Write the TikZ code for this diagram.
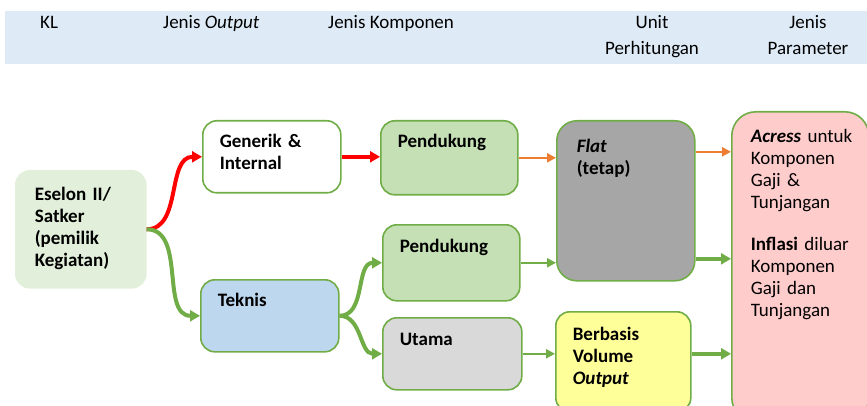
\documentclass[tikz,border=0pt]{standalone}
\usepackage{fontspec}
\setmainfont{Carlito}
\usetikzlibrary{arrows.meta,calc}

\begin{document}
\begin{tikzpicture}[x=1pt,y=-1pt,font=\fontsize{19}{22}\selectfont]

\definecolor{bandcol}{RGB}{222,235,247}
\definecolor{garis}{RGB}{112,173,71}
\definecolor{merah}{RGB}{255,0,0}
\definecolor{oranye}{RGB}{237,125,49}
\definecolor{eselonfill}{RGB}{226,239,218}
\definecolor{teknisfill}{RGB}{189,215,238}
\definecolor{pendfill}{RGB}{197,224,180}
\definecolor{utamafill}{RGB}{217,217,217}
\definecolor{flatfill}{RGB}{166,166,166}
\definecolor{volfill}{RGB}{255,255,153}
\definecolor{paramfill}{RGB}{255,204,204}

\tikzset{
  kotak/.style={draw=garis, line width=1.6pt, rounded corners=14pt,
    anchor=north west, align=left, inner xsep=17pt, inner ysep=12pt,
    text height=15pt, font=\fontsize{19}{22}\selectfont\bfseries},
  judul/.style={anchor=base west, inner sep=0pt},
  panah/.style={-{Triangle[length=9pt,width=9pt]}, line width=2.4pt},
  panah tebal/.style={-{Triangle[length=10pt,width=11pt]}, line width=4pt},
}

\useasboundingbox (0,0) rectangle (867,406);

% ---------------- header band ----------------
\fill[bandcol] (5,11) rectangle (867,64);
\node[judul] (hKL) at (40,29) {KL};
\node[judul] (hOutput) at (163,29) {Jenis \textit{Output}};
\node[judul] (hKomp) at (328,29) {Jenis Komponen};
\node[judul, anchor=base, align=center] (hUnit) at (652,55) {Unit\\[4pt]Perhitungan};
\node[judul, anchor=base, align=center] (hParam) at (808,55) {Jenis\\[4pt]Parameter};

% ---------------- boxes ----------------
\node[kotak, fill=eselonfill, draw=eselonfill, inner xsep=19pt, text width=92pt,
  text height=18pt, text depth=75pt] (eselon) at (15,170)
  {Eselon II/\\Satker\\(pemilik\\Kegiatan)};
\node[kotak, fill=white, text width=104pt, text depth=33pt] (generik) at (202,120)
  {Generik \&\\Internal};
\node[kotak, fill=teknisfill, text width=104pt, text depth=33pt] (teknis) at (200,279)
  {Teknis};
\node[kotak, fill=pendfill, text width=103pt, text depth=35pt] (pend1) at (380,120)
  {Pendukung};
\node[kotak, fill=pendfill, text width=103pt, text height=16pt, text depth=36pt] (pend2) at (382,224)
  {Pendukung};
\node[kotak, fill=utamafill, text width=105pt, text height=16pt, text depth=32pt] (utama) at (382,317)
  {Utama};
\node[kotak, fill=flatfill, rounded corners=20pt, inner xsep=20pt, text width=98pt,
  text height=20pt, text depth=116pt] (flat) at (556,120)
  {\textit{Flat}\\(tetap)};
\node[kotak, fill=volfill, text width=101pt, text height=17pt, text depth=59pt] (volume) at (555,311)
  {Berbasis\\Volume\\\textit{Output}};
\node[kotak, fill=paramfill, rounded corners=24pt, inner xsep=19pt, text width=99pt,
  text height=19pt, text depth=267pt, font=\fontsize{19}{22}\selectfont] (param) at (731,111)
  {\mbox{\textbf{\textit{Acress}} untuk}\\Komponen\\Gaji \&\\Tunjangan\\[20pt]
   \mbox{\textbf{Inflasi} diluar}\\Komponen\\Gaji dan\\Tunjangan};

% ---------------- connectors ----------------
\draw[panah tebal, merah] (eselon.east) to[out=0,in=180] (generik.west);
\draw[panah tebal, garis] (eselon.east) to[out=0,in=180] (teknis.west);
\draw[panah tebal, merah] (generik.west -| generik.east) -- (pend1.west |- generik.east);
\draw[panah tebal, garis] (teknis.east) to[out=0,in=180] (pend2.west);
\draw[panah tebal, garis] (teknis.east) to[out=0,in=180] (utama.west);
\draw[panah, oranye] (pend1.east) -- (pend1.east -| flat.west);
\draw[panah, garis] (pend2.east) -- (pend2.east -| flat.west);
\draw[panah, garis] (utama.east) -- (utama.east -| volume.west);
\draw[panah, oranye] ([yshift=6pt]flat.east |- pend1.east) -- ([yshift=6pt]param.west |- pend1.east);
\draw[panah tebal, garis] ([yshift=4pt]flat.east |- pend2.east) -- ([yshift=4pt]param.west |- pend2.east);
\draw[panah tebal, garis] (volume.east |- utama.east) -- (param.west |- utama.east);

\end{tikzpicture}
\end{document}
